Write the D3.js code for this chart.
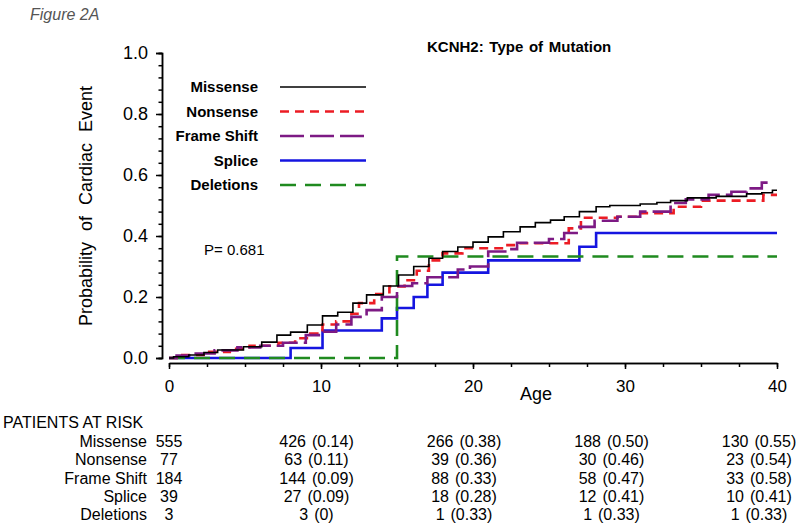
<!DOCTYPE html>
<html>
<head>
<meta charset="utf-8">
<script src="https://cdn.jsdelivr.net/npm/d3@7"></script>
<style>
  body { margin: 0; background: #fff; }
  text { font-family: "Liberation Sans", Arial, sans-serif; fill: #000; }
</style>
</head>
<body>
<div id="chart"></div>
<script>
// group names, in legend / table order
var groups = ["Missense", "Nonsense", "Frame Shift", "Splice", "Deletions"];

// step points [age, cumulative probability]
var missenseSteps = [[0,0],[0.3,0.004],[1.3,0.01],[2.3,0.018],[3.2,0.026],[4.9,0.037],[6.1,0.052],[7.1,0.075],[8.0,0.085],
  [9.1,0.108],[10.1,0.138],[11.1,0.15],[12.1,0.18],[13.0,0.207],[14.1,0.236],[15.1,0.272],[16.1,0.30],[17.1,0.327],
  [18.0,0.349],[19.0,0.364],[20.0,0.38],[21.0,0.397],[22.0,0.414],[23.1,0.43],[24.1,0.444],[25.1,0.452],[26.0,0.463],
  [27.0,0.48],[28.1,0.496],[29.0,0.50],[31.0,0.505],[32.1,0.51],[33.0,0.516],[34.1,0.525],[36.0,0.53],[38.0,0.538],
  [39.0,0.542],[39.7,0.55],[40,0.55]];
var nonsenseSteps = [[0,0],[0.5,0.01],[2.5,0.02],[4.0,0.03],[5.3,0.04],[7.2,0.05],[8.3,0.065],[9.3,0.08],[10.1,0.11],
  [11.0,0.12],[12.0,0.145],[12.5,0.18],[13.5,0.21],[14.5,0.235],[15.5,0.255],[16.3,0.286],[17.1,0.32],[18.0,0.343],
  [19.3,0.36],[22.0,0.37],[23.0,0.376],[26.3,0.425],[27.1,0.46],[29.5,0.463],[31.0,0.475],[33.2,0.496],[35.0,0.516],
  [39.1,0.535],[40,0.535]];
var frameShiftSteps = [[0,0],[0.5,0.008],[1.5,0.015],[3.0,0.025],[4.5,0.035],[6.0,0.04],[7.5,0.05],[9.0,0.075],[10.0,0.086],
  [11.0,0.11],[12.0,0.135],[13.0,0.157],[14.0,0.2],[15.0,0.236],[16.0,0.245],[17.0,0.265],[19.0,0.29],[19.8,0.30],
  [21.0,0.349],[22.4,0.357],[22.9,0.378],[25.0,0.39],[26.0,0.41],[27.0,0.43],[28.0,0.45],[29.5,0.463],[31.0,0.48],
  [33.0,0.508],[34.0,0.52],[35.5,0.535],[37.0,0.545],[38.0,0.556],[39.0,0.575],[39.7,0.575]];
var spliceSteps = [[0,0],[8.0,0.033],[10.1,0.09],[14.0,0.13],[15.0,0.164],[16.1,0.2],[17.0,0.24],[18.0,0.28],[21.0,0.32],
  [27.0,0.365],[28.1,0.41],[40,0.41]];
var deletionsSteps = [[0,0],[15.0,0.333],[40,0.333]];

// patients at risk table
var riskAges = [0, 10, 20, 30, 40];
var missenseRisk = ["555", "426 (0.14)", "266 (0.38)", "188 (0.50)", "130 (0.55)"];
var nonsenseRisk = ["77", "63 (0.11)", "39 (0.36)", "30 (0.46)", "23 (0.54)"];
var frameShiftRisk = ["184", "144 (0.09)", "88 (0.33)", "58 (0.47)", "33 (0.58)"];
var spliceRisk = ["39", "27 (0.09)", "18 (0.28)", "12 (0.41)", "10 (0.41)"];
var deletionsRisk = ["3", "3 (0)", "1 (0.33)", "1 (0.33)", "1 (0.33)"];

var xTicks = [0, 10, 20, 30, 40];
var yTicks = [0, 0.2, 0.4, 0.6, 0.8, 1.0];

var w = 800, h = 528;
var svg = d3.select("#chart").append("svg").attr("width", w).attr("height", h);
svg.append("rect").attr("width", w).attr("height", h).attr("fill", "#fff");

var x = d3.scaleLinear().domain([0, 40]).range([169, 777]);
var y = d3.scaleLinear().domain([0, 1]).range([358, 53]);

// series styles
var series = [
  {name: "Splice", steps: spliceSteps, color: "#1515e0", width: 2.6, dash: null},
  {name: "Deletions", steps: deletionsSteps, color: "#1f8a1f", width: 2.6, dash: "16,9"},
  {name: "Nonsense", steps: nonsenseSteps, color: "#ec1c24", width: 2.6, dash: "9,6"},
  {name: "Frame Shift", steps: frameShiftSteps, color: "#7d1a84", width: 2.6, dash: "24,6"},
  {name: "Missense", steps: missenseSteps, color: "#000", width: 1.6, dash: null}
];
var styleOf = {};
series.forEach(function(s){ styleOf[s.name] = s; });

// y axis (minor ticks every 0.04, then labelled majors)
svg.append("g").attr("transform", "translate(162,0)")
  .call(d3.axisLeft(y).tickValues(d3.range(0, 1.0001, 0.04)).tickSize(3.5).tickFormat(""));
svg.append("g").attr("transform", "translate(162,0)")
  .call(d3.axisLeft(y).tickValues(yTicks).tickSize(6).tickPadding(8).tickFormat(d3.format(".1f")))
  .call(function(g){ g.selectAll("text").attr("font-size", 18).attr("font-family", "Liberation Sans, Arial, sans-serif"); });

// x axis
svg.append("g").attr("transform", "translate(0,363)")
  .call(d3.axisBottom(x).tickValues(d3.range(0, 40.001, 2.5)).tickSize(4).tickSizeOuter(0).tickFormat(""));
svg.append("g").attr("transform", "translate(0,363)")
  .call(d3.axisBottom(x).tickValues(xTicks).tickSize(6).tickSizeOuter(0).tickPadding(11).tickFormat(d3.format("d")))
  .call(function(g){ g.selectAll("text").attr("font-size", 17).attr("font-family", "Liberation Sans, Arial, sans-serif"); });

svg.selectAll(".domain, .tick line").attr("stroke", "#000").attr("stroke-width", 1.5);

// curves
var line = d3.line()
  .x(function(d){ return x(d[0]); })
  .y(function(d){ return y(d[1]); })
  .curve(d3.curveStepAfter);

svg.selectAll("path.km")
  .data(series)
  .enter()
  .append("path")
  .attr("class", "km")
  .attr("d", function(d){ return line(d.steps); })
  .attr("fill", "none")
  .attr("stroke", function(d){ return d.color; })
  .attr("stroke-width", function(d){ return d.width; })
  .attr("stroke-dasharray", function(d){ return d.dash; });

// legend
var legY = d3.scalePoint().domain(groups).range([87, 185]);
var leg = svg.selectAll("g.leg")
  .data(groups)
  .enter()
  .append("g")
  .attr("class", "leg")
  .attr("transform", function(d){ return "translate(0," + legY(d) + ")"; });
leg.append("text")
  .text(function(d){ return d; })
  .attr("x", 258).attr("y", 5)
  .attr("text-anchor", "end")
  .attr("font-size", 15)
  .attr("font-weight", "bold");
leg.append("line")
  .attr("x1", 280).attr("x2", 366)
  .attr("stroke", function(d){ return styleOf[d].color; })
  .attr("stroke-width", function(d){ return styleOf[d].width; })
  .attr("stroke-dasharray", function(d){ return styleOf[d].dash; });

// titles
svg.append("text").text("Figure 2A")
  .attr("x", 30).attr("y", 20)
  .attr("font-size", 16).attr("font-style", "italic")
  .style("fill", "#555");
svg.append("text").text("KCNH2: Type of Mutation")
  .attr("x", 427).attr("y", 52)
  .attr("font-size", 15).attr("font-weight", "bold")
  .attr("word-spacing", 1.5);
svg.append("text").text("Probability of Cardiac Event")
  .attr("transform", "translate(92,206) rotate(-90)")
  .attr("text-anchor", "middle")
  .attr("font-size", 18)
  .attr("word-spacing", 6);
svg.append("text").text("Age")
  .attr("x", 536).attr("y", 400)
  .attr("text-anchor", "middle")
  .attr("font-size", 18);
svg.append("text").text("P= 0.681")
  .attr("x", 204).attr("y", 255)
  .attr("font-size", 15);

// patients at risk
var riskRows = [missenseRisk, nonsenseRisk, frameShiftRisk, spliceRisk, deletionsRisk];
var tx = d3.scaleLinear().domain([0, 40]).range([169, 759]);
var rowY = d3.scalePoint().domain(groups).range([447, 520]);

svg.append("text").text("PATIENTS AT RISK")
  .attr("x", 3).attr("y", 428)
  .attr("font-size", 16);

var rows = svg.selectAll("g.row")
  .data(groups)
  .enter()
  .append("g")
  .attr("class", "row")
  .attr("transform", function(d){ return "translate(0," + rowY(d) + ")"; });
rows.append("text")
  .text(function(d){ return d; })
  .attr("x", 147)
  .attr("text-anchor", "end")
  .attr("font-size", 16);
rows.each(function(d, i){
  d3.select(this).selectAll("text.val")
    .data(riskRows[i])
    .enter()
    .append("text")
    .attr("class", "val")
    .text(function(v){ return v; })
    .attr("x", function(v, j){ return tx(riskAges[j]); })
    .attr("text-anchor", "middle")
    .attr("font-size", 16)
    .attr("word-spacing", 1.5);
});
</script>
</body>
</html>
